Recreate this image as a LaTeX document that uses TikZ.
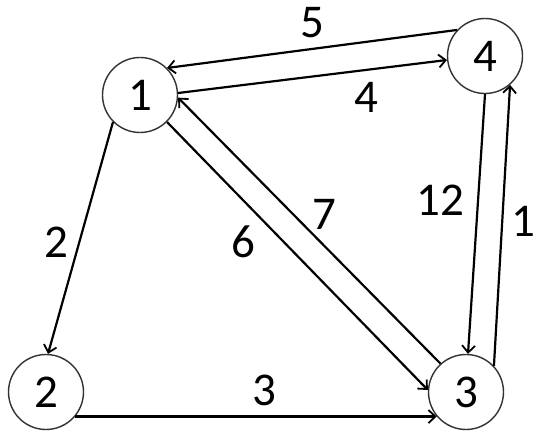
\documentclass[tikz,border=0pt]{standalone}
\usepackage{fontspec}
\setmainfont{Carlito}
\usetikzlibrary{arrows.meta}
\begin{document}
\begin{tikzpicture}[x=1pt,y=-1pt,
  vertex/.style={circle,draw=black!80,line width=1.4pt,minimum size=75pt,inner sep=0pt,font=\fontsize{47}{50}\selectfont},
  edge/.style={line width=2.2pt,-{Straight Barb[length=7pt,width=13pt,line width=1.8pt]}},
  lab/.style={font=\fontsize{47}{50}\selectfont,inner sep=0pt}]
\useasboundingbox (0,0) rectangle (536,446);
\node[vertex] (n1) at (140,95) {1};
\node[vertex] (n2) at (46,392) {2};
\node[vertex] (n3) at (466,392) {3};
\node[vertex] (n4) at (485,56) {4};
\draw[edge] (n4.137) -- (n1.45);
\draw[edge] (n1.3) -- (n4.186);
\draw[edge] (n1.225) -- (n2.87);
\draw[edge] (n2.-40) -- (n3.-140);
\draw[edge] (n1.-45) -- (n3.177);
\draw[edge] (n3.132) -- (n1.-4);
\draw[edge] (n4.270) -- (n3.87);
\draw[edge] (n3.43) -- (n4.-49);
\node[lab] (l5) at (312,23) {5};
\node[lab] (l4) at (366,97) {4};
\node[lab] (l2) at (56,242) {2};
\node[lab] (l6) at (243,242) {6};
\node[lab] (l7) at (324,214) {7};
\node[lab] (l12) at (440,200) {12};
\node[lab] (l1) at (523,221) {1};
\node[lab] (l3) at (264,390) {3};
\end{tikzpicture}
\end{document}
